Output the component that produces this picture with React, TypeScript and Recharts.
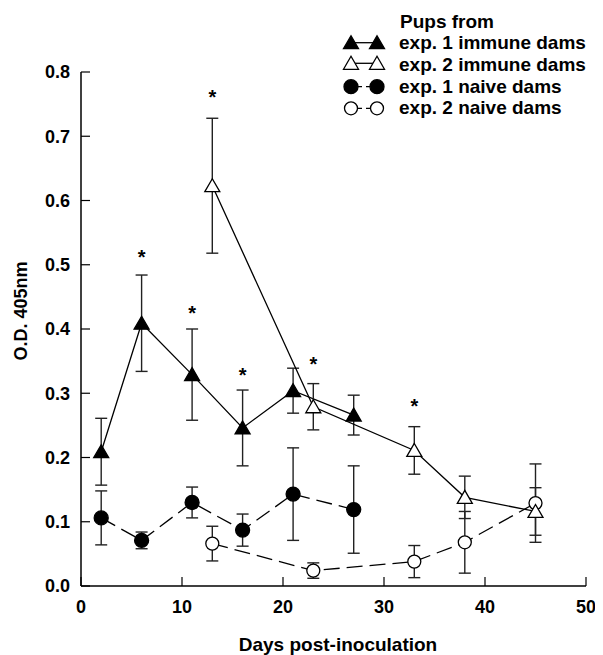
import React from 'react';
import { ComposedChart, Line, Scatter, XAxis, YAxis, ErrorBar, Legend } from 'recharts';

const days1Immune = [2, 6, 11, 16, 21, 27];
const od1Immune = [0.209, 0.409, 0.329, 0.246, 0.304, 0.266];
const err1Immune = [0.052, 0.075, 0.071, 0.059, 0.035, 0.031];

const days2Immune = [13, 23, 33, 38, 45];
const od2Immune = [0.623, 0.279, 0.211, 0.138, 0.116];
const err2Immune = [0.105, 0.036, 0.037, 0.033, 0.037];

const days1Naive = [2, 6, 11, 16, 21, 27];
const od1Naive = [0.106, 0.071, 0.130, 0.087, 0.143, 0.119];
const err1Naive = [0.042, 0.013, 0.024, 0.025, 0.072, 0.068];

const days2Naive = [13, 23, 33, 38, 45];
const od2Naive = [0.066, 0.024, 0.038, 0.068, 0.129];
const err2Naive = [0.027, 0.012, 0.025, 0.048, 0.061];

const starDays = [6, 11, 13, 16, 23, 33];
const starOD = [0.518, 0.431, 0.767, 0.335, 0.352, 0.287];

const xTicks = [0, 10, 20, 30, 40, 50];
const yTicks = [0, 0.1, 0.2, 0.3, 0.4, 0.5, 0.6, 0.7, 0.8];

const seriesNames = ['exp. 1 immune dams', 'exp. 2 immune dams', 'exp. 1 naive dams', 'exp. 2 naive dams'];
const legendTitle = 'Pups from';

const build = (days: number[], od: number[], err: number[]) =>
  days.map((d, i) => ({ day: d, od: od[i], err: err[i] }));

const data1Immune = build(days1Immune, od1Immune, err1Immune);
const data2Immune = build(days2Immune, od2Immune, err2Immune);
const data1Naive = build(days1Naive, od1Naive, err1Naive);
const data2Naive = build(days2Naive, od2Naive, err2Naive);
const starData = starDays.map((d, i) => ({ day: d, od: starOD[i] }));

const FONT = '"Liberation Sans", Arial, sans-serif';

const Tri = ({ cx, cy, filled }: { cx: number; cy: number; filled: boolean }) => (
  <polygon
    points={`${cx},${cy - 7} ${cx - 7.5},${cy + 6} ${cx + 7.5},${cy + 6}`}
    fill={filled ? '#000' : '#fff'}
    stroke="#000"
    strokeWidth={1.3}
  />
);

const Circ = ({ cx, cy, filled }: { cx: number; cy: number; filled: boolean }) => (
  <circle cx={cx} cy={cy} r={filled ? 7 : 6.5} fill={filled ? '#000' : '#fff'} stroke="#000" strokeWidth={1.3} />
);

const dotFor = (kind: 'tri' | 'circ', filled: boolean) => (props: any) => {
  const { cx, cy, index } = props;
  if (cx == null || cy == null) return <g key={index} />;
  return kind === 'tri' ? (
    <Tri key={index} cx={cx} cy={cy} filled={filled} />
  ) : (
    <Circ key={index} cx={cx} cy={cy} filled={filled} />
  );
};

const Star = (props: any) => {
  const { cx, cy } = props;
  return (
    <text x={cx} y={cy + 11} textAnchor="middle" fontSize={20} fontWeight="bold" fontFamily={FONT} fill="#000">
      *
    </text>
  );
};

const LegendContent = () => {
  const rowsIconY = [34.7, 55.3, 78.7, 100.3];
  const rowsTextY = [41.3, 62.9, 84.5, 106.1];
  const kinds: Array<['tri' | 'circ', boolean, boolean]> = [
    ['tri', true, false],
    ['tri', false, false],
    ['circ', true, true],
    ['circ', false, true],
  ];
  return (
    <svg width={257} height={125} style={{ display: 'block' }}>
      <text x={62} y={19.7} fontSize={19} fontWeight="bold" fontFamily={FONT} fill="#000">
        {legendTitle}
      </text>
      {seriesNames.map((name, i) => {
        const [kind, filled, dashed] = kinds[i];
        const y = rowsIconY[i];
        return (
          <g key={name}>
            {dashed ? (
              <line x1={20} y1={y} x2={32} y2={y} stroke="#000" strokeWidth={1.3} strokeDasharray="4 4" />
            ) : (
              <line x1={13} y1={y} x2={39} y2={y} stroke="#000" strokeWidth={1.3} />
            )}
            {kind === 'tri' ? (
              <>
                <Tri cx={13} cy={y} filled={filled} />
                <Tri cx={39} cy={y} filled={filled} />
              </>
            ) : (
              <>
                <Circ cx={13} cy={y} filled={filled} />
                <Circ cx={39} cy={y} filled={filled} />
              </>
            )}
            <text x={61} y={rowsTextY[i]} fontSize={19} fontWeight="bold" fontFamily={FONT} fill="#000">
              {name}
            </text>
          </g>
        );
      })}
    </svg>
  );
};

const YLabel = () => (
  <text
    x={19}
    y={303}
    transform="rotate(-90, 19, 303)"
    textAnchor="middle"
    fontSize={18}
    fontWeight="bold"
    fontFamily={FONT}
    fill="#000"
  >
    O.D. 405nm
  </text>
);

const XLabel = () => (
  <text x={330} y={643} textAnchor="middle" fontSize={19} fontWeight="bold" fontFamily={FONT} fill="#000">
    Days post-inoculation
  </text>
);

const tickStyle = { fontSize: 18, fontWeight: 'bold', fill: '#000', fontFamily: FONT } as any;

export default function App() {
  return (
    <div style={{ width: 587, height: 647, fontFamily: FONT }}>
      <ComposedChart width={587} height={647} margin={{ top: 64, right: 9, bottom: 0, left: 0 }}>
        <XAxis
          type="number"
          dataKey="day"
          domain={[0, 50]}
          ticks={xTicks}
          height={69}
          tickSize={-9}
          tickMargin={23}
          tick={tickStyle}
          axisLine={{ stroke: '#000', strokeWidth: 1.5 }}
          tickLine={{ stroke: '#000', strokeWidth: 1.2 }}
          allowDecimals={false}
          label={<XLabel />}
        />
        <YAxis
          type="number"
          domain={[0, 0.8]}
          ticks={yTicks}
          width={73}
          tickSize={-9}
          tickMargin={20}
          tick={tickStyle}
          tickFormatter={(v: number) => v.toFixed(1)}
          axisLine={{ stroke: '#000', strokeWidth: 1.5 }}
          tickLine={{ stroke: '#000', strokeWidth: 1.2 }}
          label={<YLabel />}
        />
        <Legend
          layout="horizontal"
          verticalAlign="middle"
          align="center"
          content={<LegendContent />}
          wrapperStyle={{ position: 'absolute', top: 0, left: 330, width: 257, height: 125 }}
        />
        <Line
          data={data1Naive}
          dataKey="od"
          name={seriesNames[2]}
          type="linear"
          stroke="#000"
          strokeWidth={1.3}
          strokeDasharray="16 7"
          dot={dotFor('circ', true)}
          isAnimationActive={false}
        >
          <ErrorBar dataKey="err" width={6} stroke="#222" strokeWidth={1.4} direction="y" />
        </Line>
        <Line
          data={data2Naive}
          dataKey="od"
          name={seriesNames[3]}
          type="linear"
          stroke="#000"
          strokeWidth={1.3}
          strokeDasharray="16 7"
          dot={dotFor('circ', false)}
          isAnimationActive={false}
        >
          <ErrorBar dataKey="err" width={6} stroke="#222" strokeWidth={1.4} direction="y" />
        </Line>
        <Line
          data={data1Immune}
          dataKey="od"
          name={seriesNames[0]}
          type="linear"
          stroke="#000"
          strokeWidth={1.3}
          dot={dotFor('tri', true)}
          isAnimationActive={false}
        >
          <ErrorBar dataKey="err" width={6} stroke="#222" strokeWidth={1.4} direction="y" />
        </Line>
        <Line
          data={data2Immune}
          dataKey="od"
          name={seriesNames[1]}
          type="linear"
          stroke="#000"
          strokeWidth={1.3}
          dot={dotFor('tri', false)}
          isAnimationActive={false}
        >
          <ErrorBar dataKey="err" width={6} stroke="#222" strokeWidth={1.4} direction="y" />
        </Line>
        <Scatter data={starData} dataKey="od" shape={<Star />} isAnimationActive={false} legendType="none" />
      </ComposedChart>
    </div>
  );
}
